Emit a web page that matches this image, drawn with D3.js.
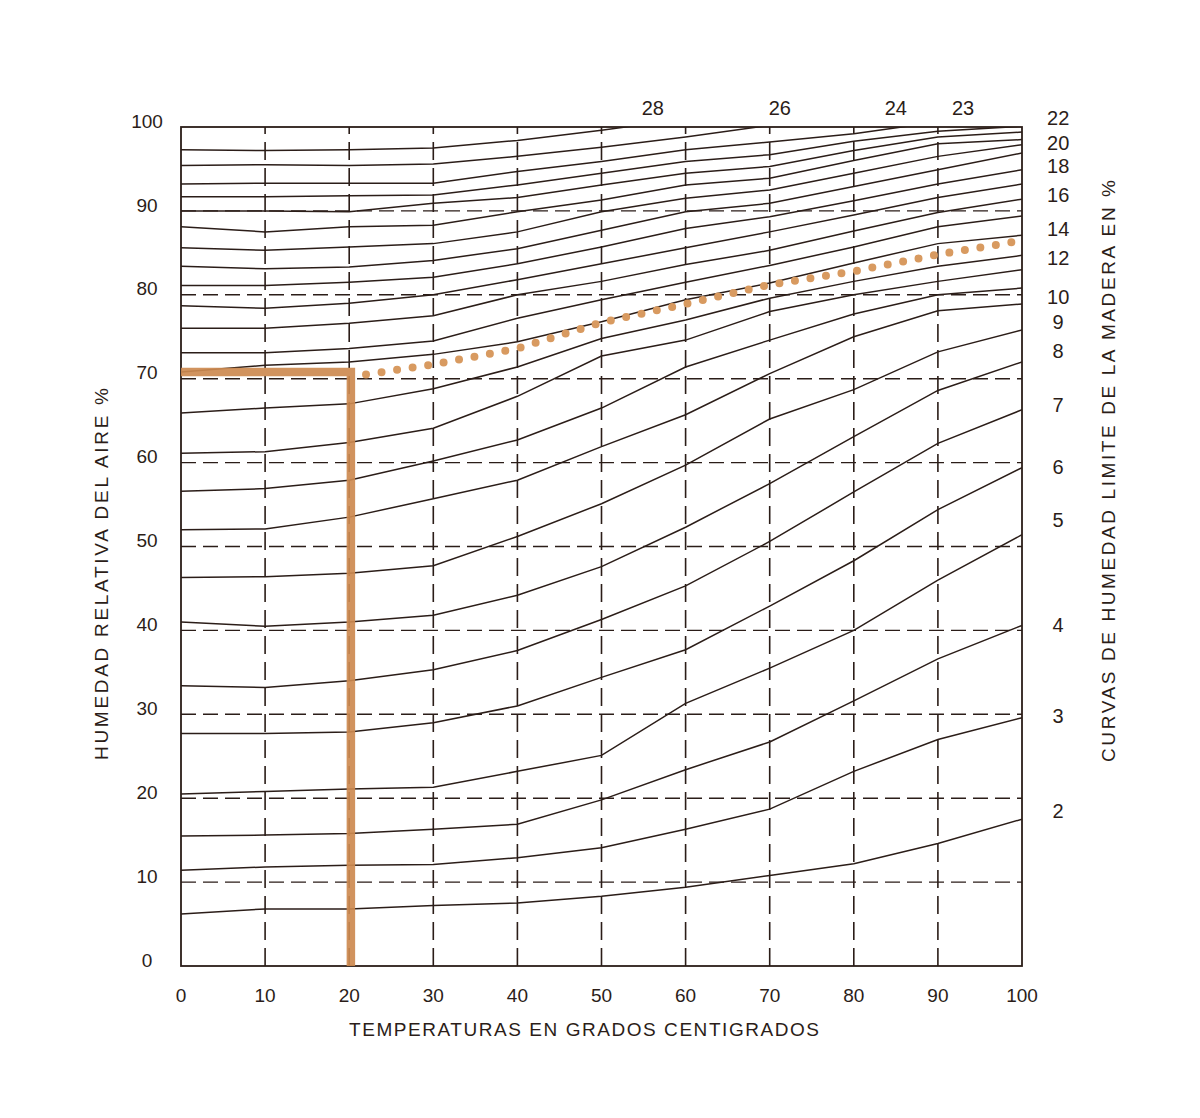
<!DOCTYPE html>
<html>
<head>
<meta charset="utf-8">
<script src="https://cdn.jsdelivr.net/npm/d3@7"></script>
<style>
  body { margin: 0; background: #fff; }
  text { font-family: 'Liberation Sans', Arial, sans-serif; fill: #2b1d18; }
</style>
</head>
<body>
<div id="chart"></div>
<script>
// temperatures where the curves are sampled
var temps = [0, 10, 20, 30, 40, 50, 60, 70, 80, 90, 100]

// relative humidity of each equilibrium moisture curve
var emc2 = [6.2, 6.8, 6.8, 7.2, 7.5, 8.3, 9.4, 10.8, 12.2, 14.6, 17.5]
var emc3 = [11.4, 11.8, 12.0, 12.1, 12.9, 14.1, 16.3, 18.7, 23.2, 27.0, 29.6]
var emc4 = [15.5, 15.6, 15.8, 16.3, 16.9, 19.8, 23.4, 26.7, 31.6, 36.6, 40.6]
var emc5 = [20.5, 20.8, 21.1, 21.3, 23.2, 25.1, 31.3, 35.5, 40.0, 46.0, 51.4]
var emc6 = [27.7, 27.7, 27.9, 29.0, 31.0, 34.4, 37.7, 42.9, 48.3, 54.4, 59.4]
var emc7 = [33.4, 33.2, 34.0, 35.3, 37.6, 41.3, 45.3, 50.6, 56.5, 62.3, 66.3]
var emc8 = [41.0, 40.5, 41.0, 41.8, 44.2, 47.6, 52.3, 57.5, 63.1, 68.6, 72.0]
var emc9 = [46.3, 46.4, 46.8, 47.7, 51.2, 55.1, 59.7, 65.2, 68.7, 73.2, 75.8]
var emc10 = [52.0, 52.1, 53.5, 55.7, 57.9, 61.9, 65.7, 70.6, 75.0, 78.1, 78.9]
var emc11 = [56.6, 56.9, 57.9, 60.2, 62.7, 66.5, 71.4, 74.6, 77.7, 80.0, 80.8]
var emc12 = [61.1, 61.3, 62.4, 64.1, 67.9, 72.7, 74.6, 78.0, 80.0, 81.6, 83.0]
var emc13 = [65.9, 66.5, 67.0, 68.8, 71.4, 74.8, 77.0, 79.6, 81.6, 83.4, 84.7]
var emc14 = [70.8, 71.6, 72.0, 72.9, 74.4, 76.8, 79.4, 81.4, 83.8, 86.1, 87.1]
var emc15 = [73.1, 73.1, 73.6, 74.5, 77.2, 79.4, 81.5, 83.5, 85.7, 88.1, 89.4]
var emc16 = [76.0, 76.0, 76.6, 77.5, 80.0, 81.6, 83.6, 85.3, 87.6, 89.8, 91.4]
var emc17 = [78.7, 78.4, 79.0, 80.0, 81.8, 83.7, 85.6, 87.5, 89.5, 91.6, 93.2]
var emc18 = [81.1, 81.1, 81.5, 82.1, 83.7, 85.7, 87.9, 89.3, 91.2, 93.2, 94.9]
var emc19 = [83.4, 83.1, 83.3, 84.1, 85.5, 87.7, 89.9, 90.9, 92.9, 94.9, 96.9]
var emc20 = [85.6, 85.3, 85.7, 86.1, 87.5, 89.9, 91.5, 92.5, 94.5, 96.5, 97.9]
var emc21 = [88.1, 87.5, 88.1, 88.3, 89.9, 91.3, 93.1, 93.9, 96.0, 98.0, 98.5]
var emc22 = [90.0, 90.0, 89.9, 90.9, 91.6, 93.1, 94.5, 95.3, 97.2, 98.8, 99.4]
var emc23 = [91.7, 91.7, 91.8, 91.9, 93.1, 94.5, 95.9, 96.7, 98.3, 99.5, 100.1]
var emc24 = [93.2, 93.3, 93.3, 93.3, 94.7, 95.9, 97.3, 98.2, 99.2, 100.6]
var emc26 = [95.4, 95.5, 95.4, 95.6, 96.5, 97.6, 98.8, 100.2]
var emc28 = [97.3, 97.2, 97.3, 97.5, 98.4, 99.6, 101.0]

// curve labels on the right side and along the top
var rightLabels = ['22', '20', '18', '16', '14', '12', '10', '9', '8', '7', '6', '5', '4', '3', '2']
var rightLabelRH = [101.1, 98.1, 95.4, 91.9, 87.9, 84.4, 79.7, 76.8, 73.3, 66.9, 59.5, 53.2, 40.6, 29.8, 18.5]
var topLabels = ['28', '26', '24', '23']
var topLabelTemp = [56.1, 71.2, 85.0, 93.0]

// axis ticks
var tickValues = [0, 10, 20, 30, 40, 50, 60, 70, 80, 90, 100]

// highlighted example: 20 degrees / 70 % and the dotted path
var markTemp = 20.2
var markRH = 70.8
var dotTemps = [22, 30, 40, 50, 60, 70, 80, 90, 99]
var dotRH = [70.5, 71.7, 73.6, 76.7, 78.9, 81.2, 82.8, 84.8, 86.3]

var INK = '#2b1d18'
var ORANGE = '#cd8a50'
var DOTS = '#d89a60'

// define margin and svg size
var margin = { top: 127, bottom: 152, left: 181, right: 178 }
var width = 841
var height = 839

var svg = d3
  .select('#chart')
  .append('svg')
  .attr('width', width + margin.left + margin.right)
  .attr('height', height + margin.top + margin.bottom)
  .append('g')
  .attr('transform', 'translate(' + margin.left + ',' + margin.top + ')')

var x = d3.scaleLinear().domain([0, 100]).range([0, width])
var y = d3.scaleLinear().domain([0, 100]).range([height, 0])

svg
  .append('clipPath')
  .attr('id', 'plot-clip')
  .append('rect')
  .attr('width', width)
  .attr('height', height)

// dashed grid
var grid = tickValues.slice(1, -1)
svg
  .selectAll('.vgrid')
  .data(grid)
  .enter()
  .append('line')
  .attr('x1', d => x(d))
  .attr('x2', d => x(d))
  .attr('y1', height)
  .attr('y2', 0)
  .attr('stroke', INK)
  .attr('stroke-width', 1.6)
  .attr('stroke-dasharray', '18,8')

svg
  .selectAll('.hgrid')
  .data(grid)
  .enter()
  .append('line')
  .attr('x1', 0)
  .attr('x2', width)
  .attr('y1', d => y(d))
  .attr('y2', d => y(d))
  .attr('stroke', INK)
  .attr('stroke-width', 1.4)
  .attr('stroke-dasharray', '15,7')

// moisture curves
var curves = [
  emc2, emc3, emc4, emc5, emc6, emc7, emc8, emc9, emc10, emc11, emc12, emc13, emc14,
  emc15, emc16, emc17, emc18, emc19, emc20, emc21, emc22, emc23, emc24, emc26, emc28
]

var line = d3
  .line()
  .x((d, i) => x(temps[i]))
  .y(d => y(d))

svg
  .append('g')
  .attr('clip-path', 'url(#plot-clip)')
  .selectAll('path')
  .data(curves)
  .enter()
  .append('path')
  .attr('d', line)
  .attr('fill', 'none')
  .attr('stroke', INK)
  .attr('stroke-width', 1.5)

// frame
svg
  .append('rect')
  .attr('width', width)
  .attr('height', height)
  .attr('fill', 'none')
  .attr('stroke', INK)
  .attr('stroke-width', 1.8)

// orange marker lines
svg
  .append('path')
  .attr('d', 'M' + x(0) + ',' + y(markRH) + 'H' + x(markTemp) + 'V' + y(0))
  .attr('fill', 'none')
  .attr('stroke', ORANGE)
  .attr('stroke-width', 8.5)
  .attr('opacity', 0.92)

// dotted path
var dotLine = d3
  .line()
  .x((d, i) => x(dotTemps[i]))
  .y(d => y(d))

svg
  .append('path')
  .attr('d', dotLine(dotRH))
  .attr('fill', 'none')
  .attr('stroke', DOTS)
  .attr('stroke-width', 8)
  .attr('stroke-linecap', 'round')
  .attr('stroke-dasharray', '0,15.7')

// tick labels
svg
  .selectAll('.ytick')
  .data(tickValues)
  .enter()
  .append('text')
  .attr('x', -34)
  .attr('y', d => y(d) - 6)
  .attr('dy', '0.35em')
  .attr('text-anchor', 'middle')
  .attr('font-size', 19)
  .text(d => d)

svg
  .selectAll('.xtick')
  .data(tickValues)
  .enter()
  .append('text')
  .attr('x', d => x(d))
  .attr('y', height + 29)
  .attr('dy', '0.35em')
  .attr('text-anchor', 'middle')
  .attr('font-size', 19)
  .text(d => d)

// curve labels
svg
  .selectAll('.rlabel')
  .data(rightLabels)
  .enter()
  .append('text')
  .attr('x', x(104.3))
  .attr('y', (d, i) => y(rightLabelRH[i]))
  .attr('dy', '0.35em')
  .attr('text-anchor', 'middle')
  .attr('font-size', 20)
  .text(d => d)

svg
  .selectAll('.tlabel')
  .data(topLabels)
  .enter()
  .append('text')
  .attr('x', (d, i) => x(topLabelTemp[i]))
  .attr('y', y(102.3))
  .attr('dy', '0.35em')
  .attr('text-anchor', 'middle')
  .attr('font-size', 20)
  .text(d => d)

// axis titles
svg
  .append('text')
  .attr('x', (349 + 819) / 2 - margin.left)
  .attr('y', height + 63)
  .attr('dy', '0.35em')
  .attr('text-anchor', 'middle')
  .attr('font-size', 19)
  .attr('textLength', 470)
  .attr('lengthAdjust', 'spacing')
  .text('TEMPERATURAS EN GRADOS CENTIGRADOS')

svg
  .append('text')
  .attr('transform', 'translate(' + (101 - margin.left) + ',' + (574 - margin.top) + ') rotate(-90)')
  .attr('dy', '0.35em')
  .attr('text-anchor', 'middle')
  .attr('font-size', 19)
  .attr('textLength', 372)
  .attr('lengthAdjust', 'spacing')
  .text('HUMEDAD RELATIVA DEL AIRE %')

svg
  .append('text')
  .attr('transform', 'translate(' + (1108 - margin.left) + ',' + (471 - margin.top) + ') rotate(-90)')
  .attr('dy', '0.35em')
  .attr('text-anchor', 'middle')
  .attr('font-size', 19)
  .attr('textLength', 582)
  .attr('lengthAdjust', 'spacing')
  .text('CURVAS DE HUMEDAD LIMITE DE LA MADERA EN %')
</script>
</body>
</html>
